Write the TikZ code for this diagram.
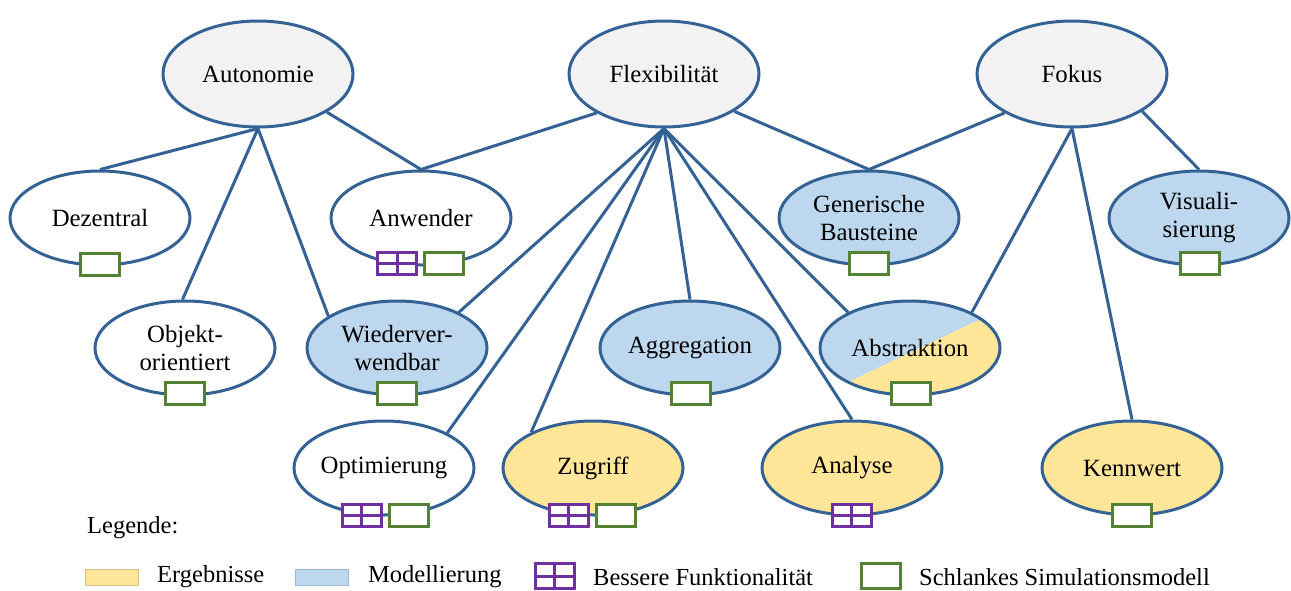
\documentclass[tikz,border=0pt]{standalone}
\usepackage{fontspec}
\setmainfont{Liberation Serif}
\usetikzlibrary{shapes.geometric,calc}
\definecolor{edgec}{RGB}{52,98,148}
\definecolor{topfill}{RGB}{242,242,242}
\definecolor{modfill}{RGB}{189,215,238}
\definecolor{resfill}{RGB}{255,230,153}
\definecolor{grn}{RGB}{84,130,53}
\definecolor{prp}{RGB}{112,48,160}
\tikzset{
  txt/.style={font=\fontsize{24.8}{28}\selectfont},
  ell/.style={ellipse, draw=edgec, line width=3pt, inner sep=0pt, fill=white,
    minimum width=180pt, minimum height=94pt, align=center, txt},
  topell/.style={ell, fill=topfill, minimum width=190pt, minimum height=106pt},
  modell/.style={ell, fill=modfill},
  resell/.style={ell, fill=resfill},
  link/.style={draw=edgec, line width=3pt},
  gbox/.style={draw=grn, line width=3pt, fill=white, minimum width=39pt,
    minimum height=22pt, inner sep=0pt},
  pbox/.style={draw=prp, line width=3pt, fill=white, minimum width=39pt,
    minimum height=22pt, inner sep=0pt,
    path picture={\draw[prp, line width=3pt]
      (path picture bounding box.north) -- (path picture bounding box.south)
      (path picture bounding box.west) -- (path picture bounding box.east);}},
  swatch/.style={minimum width=53pt, minimum height=16pt, inner sep=0pt, line width=0.8pt},
  legtxt/.style={anchor=west, font=\fontsize{24.5}{28}\selectfont, inner sep=0pt}
}
\begin{document}
\begin{tikzpicture}[x=1pt,y=-1pt]
\useasboundingbox (0,0) rectangle (1291,590);
% top level
\node[topell] (aut) at (258,74) {Autonomie};
\node[topell] (flex) at (664,74) {Flexibilität};
\node[topell] (fok) at (1072,74) {Fokus};
% level 2
\node[ell] (dez) at (100,218) {Dezentral};
\node[ell] (anw) at (421,218) {Anwender};
\node[modell] (gen) at (869,218) {Generische\\Bausteine};
\node[modell] (vis) at (1199,218) {Visuali-\\sierung};
% level 3
\node[ell] (obj) at (185,348) {Objekt-\\orientiert};
\node[modell] (wie) at (397,348) {Wiederver-\\wendbar};
\node[modell] (agg) at (690,348) {Aggregation};
\node[ell, fill=none, path picture={
  \fill[resfill] (path picture bounding box.south west) rectangle (path picture bounding box.north east);
  \fill[modfill] ([shift={(-120pt,-61.4pt)}]path picture bounding box.center)
     -- ([shift={(120pt,52.3pt)}]path picture bounding box.center)
     -- ([shift={(120pt,80pt)}]path picture bounding box.center)
     -- ([shift={(-120pt,80pt)}]path picture bounding box.center) -- cycle;}]
  (abs) at (910,348) {Abstraktion};
% level 4
\node[ell] (opt) at (384,468) {Optimierung};
\node[resell] (zug) at (593,468) {Zugriff};
\node[resell] (ana) at (852,468) {Analyse};
\node[resell] (ken) at (1132,468) {Kennwert};
% connectors
\draw[link] (aut.south) -- (dez.north);
\draw[link] (aut.south) -- (obj.93);
\draw[link] (aut.south) -- (wie.155);
\draw[link] (aut.-29.6) -- (anw.north);
\draw[link] (flex.-150.4) -- (anw.north);
\draw[link] (flex.-28) -- (gen.north);
\draw[link] (flex.south) -- (wie.30);
\draw[link] (flex.south) -- (opt.29);
\draw[link] (flex.south) -- (zug.150);
\draw[link] (flex.south) -- (agg.north);
\draw[link] (flex.south) -- (ana.north);
\draw[link] (flex.south) -- (abs.150);
\draw[link] (fok.-150.4) -- (gen.north);
\draw[link] (fok.-28.5) -- (vis.north);
\draw[link] (fok.south) -- (abs.30);
\draw[link] (fok.south) -- (ken.north);
% markers
\node[gbox] (dezg) at (100,264) {};
\node[pbox] (anwp) at (397,263) {};
\node[gbox] (anwg) at (444,263) {};
\node[gbox] (geng) at (869,263) {};
\node[gbox] (visg) at (1200,263) {};
\node[gbox] (objg) at (185,393) {};
\node[gbox] (wieg) at (397,393) {};
\node[gbox] (aggg) at (691,393) {};
\node[gbox] (absg) at (911,393) {};
\node[pbox] (optp) at (361.5,515) {};
\node[gbox] (optg) at (409,515) {};
\node[pbox] (zugp) at (568.5,515) {};
\node[gbox] (zugg) at (616,515) {};
\node[pbox] (anap) at (851.5,515) {};
\node[gbox] (keng) at (1132,515) {};
% legend
\node[legtxt] (leg) at (87,528) {Legende:};
\node[swatch, fill=resfill, draw=resfill!80!black!90] (sw1) at (111.5,577) {};
\node[legtxt] (l1) at (157,577) {Ergebnisse};
\node[swatch, fill=modfill, draw=modfill!85!black] (sw2) at (322,577) {};
\node[legtxt] (l2) at (368,577) {Modellierung};
\node[pbox, minimum height=25pt] (sw3) at (554.5,576) {};
\node[legtxt] (l3) at (593,577) {Bessere Funktionalität};
\node[gbox, minimum height=25pt] (sw4) at (881,576) {};
\node[legtxt] (l4) at (919,577) {Schlankes Simulationsmodell};
\end{tikzpicture}
\end{document}
